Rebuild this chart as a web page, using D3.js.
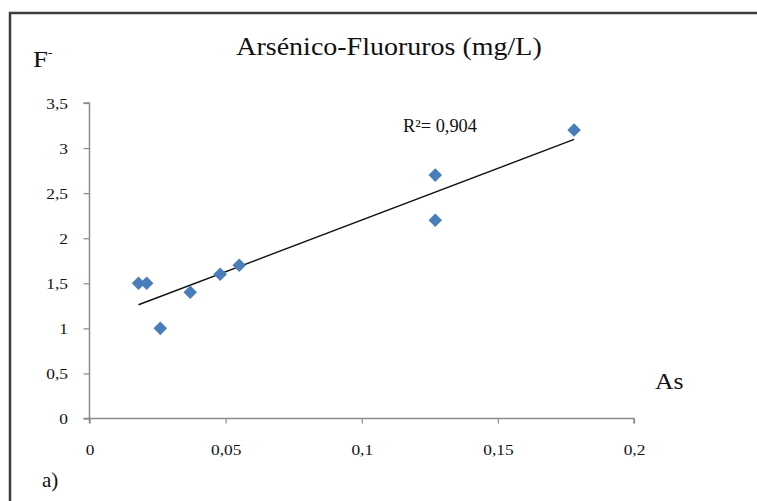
<!DOCTYPE html>
<html>
<head>
<meta charset="utf-8">
<script src="https://cdn.jsdelivr.net/npm/d3@7"></script>
<style>
  html, body { margin: 0; padding: 0; background: #ffffff; }
  svg { display: block; }
  text { font-family: "Liberation Serif", "Times New Roman", serif; fill: #111; }
</style>
</head>
<body>
<svg id="chart" width="757" height="501"></svg>
<script>
// Arsenic (As) and fluoride (F-) concentrations, mg/L
const asValues = [0.018, 0.021, 0.026, 0.037, 0.048, 0.055, 0.127, 0.127, 0.178];
const fValues  = [1.5,   1.5,   1.0,   1.4,   1.6,   1.7,   2.7,   2.2,   3.2];

const xTicks = [0, 0.05, 0.1, 0.15, 0.2];
const yTicks = [0, 0.5, 1, 1.5, 2, 2.5, 3, 3.5];
const xTickLabels = ["0", "0,05", "0,1", "0,15", "0,2"];
const yTickLabels = ["0", "0,5", "1", "1,5", "2", "2,5", "3", "3,5"];

const titleText = "Arsénico-Fluoruros (mg/L)";
const r2Label = "R²= 0,904";

const svg = d3.select("#chart");
const stretch = 1.12;   // text is set slightly wide

// outer frame (continues past the right and bottom edges)
svg.append("path")
  .attr("d", "M10,520 L10,13 L780,13")
  .attr("fill", "none")
  .attr("stroke", "#3d3d3d")
  .attr("stroke-width", 2.5);

const x = d3.scaleLinear().domain([0, 0.2]).range([89.5, 634]);
const y = d3.scaleLinear().domain([0, 3.5]).range([418.5, 103]);

function wideText(sel) {
  sel.each(function () {
    const t = d3.select(this);
    const tx = +t.attr("x") || 0;
    t.attr("x", 0).attr("transform", `translate(${tx},0) scale(${stretch},1)`);
  });
}

// y axis
const yAxis = svg.append("g")
  .attr("transform", `translate(${x(0)},0)`)
  .call(d3.axisLeft(y).tickValues(yTicks).tickSize(6).tickPadding(15.5)
    .tickFormat((d, i) => yTickLabels[i]));
// x axis
const xAxis = svg.append("g")
  .attr("transform", `translate(0,${y(0)})`)
  .call(d3.axisBottom(x).tickValues(xTicks).tickSize(5).tickPadding(0)
    .tickFormat((d, i) => xTickLabels[i]));

[yAxis, xAxis].forEach(g => {
  g.attr("font-family", "Liberation Serif, serif");
  g.select(".domain").attr("stroke", "#8a8a8a").attr("stroke-width", 1.5);
  g.selectAll(".tick line").attr("stroke", "#8a8a8a").attr("stroke-width", 1.2);
  g.selectAll("text")
    .attr("font-size", 15.5)
    .attr("fill", "#111");
});
yAxis.select(".domain").attr("d", `M-6,${y(3.5)}H0V${y(0)}H-6`);
xAxis.select(".domain").attr("d", `M${x(0)},5V0H${x(0.2)}V5`);
yAxis.selectAll("text").attr("dy", "0.33em").call(wideText);
xAxis.selectAll("text").attr("y", 31).attr("dy", "0.33em").call(wideText);

// linear trend line (least squares)
const n = asValues.length;
const mx = d3.mean(asValues), my = d3.mean(fValues);
let sxy = 0, sxx = 0;
for (let i = 0; i < n; i++) {
  sxy += (asValues[i] - mx) * (fValues[i] - my);
  sxx += (asValues[i] - mx) ** 2;
}
const slope = sxy / sxx, intercept = my - slope * mx;
const [x0, x1] = d3.extent(asValues);
svg.append("line")
  .attr("x1", x(x0)).attr("y1", y(intercept + slope * x0))
  .attr("x2", x(x1)).attr("y2", y(intercept + slope * x1))
  .attr("stroke", "#111")
  .attr("stroke-width", 1.4);

// diamond markers
const diamond = d3.symbol().type(d3.symbolSquare).size(92);
svg.append("g").selectAll("path")
  .data(asValues.map((v, i) => [v, fValues[i]]))
  .join("path")
  .attr("d", diamond)
  .attr("transform", d => `translate(${x(d[0])},${y(d[1])}) rotate(45)`)
  .attr("fill", "#4a7ebb");

// title and labels
svg.append("text")
  .attr("transform", `translate(389,55) scale(${stretch},1)`)
  .attr("text-anchor", "middle")
  .attr("font-size", 25)
  .text(titleText);

const fLabel = svg.append("text")
  .attr("transform", `translate(33,67) scale(${stretch},1)`)
  .attr("font-size", 24);
fLabel.append("tspan").text("F");
fLabel.append("tspan").attr("font-size", 12).attr("dy", -10).text("-");

svg.append("text")
  .attr("transform", `translate(655,389) scale(${stretch},1)`)
  .attr("font-size", 23)
  .text("As");

svg.append("text")
  .attr("transform", `translate(403,132) scale(1.02,1)`)
  .attr("font-size", 18)
  .text(r2Label);

svg.append("text")
  .attr("transform", "translate(42,487)")
  .attr("font-size", 21)
  .text("a)");
</script>
</body>
</html>
